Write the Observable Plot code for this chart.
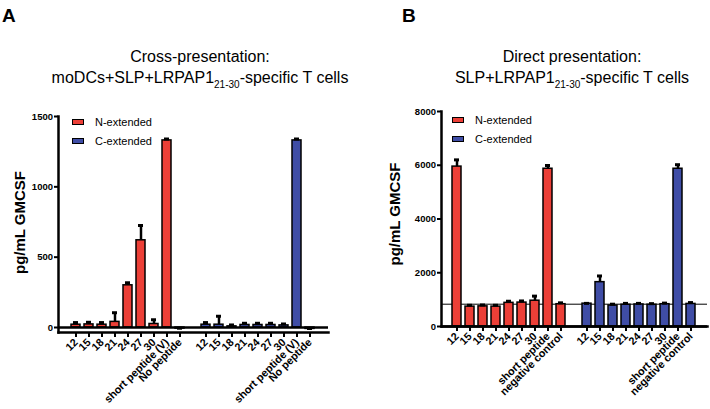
<!DOCTYPE html>
<html><head><meta charset="utf-8">
<script src="https://cdn.jsdelivr.net/npm/d3@7"></script>
<script src="https://cdn.jsdelivr.net/npm/@observablehq/plot@0.6"></script>
<style>
body{margin:0;background:#fff;}
#root{position:relative;width:710px;height:409px;font-family:"Liberation Sans",Arial,sans-serif;color:#000;overflow:hidden;background:#fff;}
.letter{position:absolute;top:6px;font-size:19px;font-weight:bold;line-height:19px;}
.title{position:absolute;top:46px;width:400px;font-size:16px;line-height:21px;text-align:center;white-space:nowrap;}
.title .sub{font-size:10px;position:relative;top:5px;}
.leg{position:absolute;font-size:11px;line-height:12px;display:flex;align-items:center;white-space:nowrap;}
.sw{width:10px;height:4px;border:1.5px solid #000;margin-right:11px;}
.plot{position:absolute;top:100px;}
</style></head>
<body>
<div id="root">
  <div class="letter" style="left:2px">A</div>
  <div class="letter" style="left:402px">B</div>
  <div class="title" style="left:0px">Cross-presentation:<br>moDCs+SLP+LRPAP1<span class="sub">21-30</span>-specific T cells</div>
  <div class="title" style="left:372px">Direct presentation:<br>SLP+LRPAP1<span class="sub">21-30</span>-specific T cells</div>
  <div id="plotA" class="plot" style="left:0px"></div>
  <div id="plotB" class="plot" style="left:370px"></div>
  <div id="legA"></div>
  <div id="legB"></div>
</div>
<script>
// ---- data ----
const seriesNames = ["N-extended", "C-extended"];
const seriesColors = ["#EC3F37", "#3F4DA6"];

// Panel A: cross-presentation
const categoriesA = ["12", "15", "18", "21", "24", "27", "30", "short peptide (V)", "No peptide"];
const nExtA    = [20, 22, 20, 40, 300, 620, 25, 1330, -8];
const nExtErrA = [15, 15, 15, 65, 18, 105, 30, 10, 3];
const cExtA    = [20, 20, 8, 18, 18, 18, 15, 1330, -10];
const cExtErrA = [15, 60, 10, 12, 12, 12, 10, 10, 3];
const yTicksA  = [0, 500, 1000, 1500];

// Panel B: direct presentation
const categoriesB = ["12", "15", "18", "21", "24", "27", "30", "short peptide", "negative control"];
const nExtB    = [5950, 740, 750, 740, 880, 890, 960, 5870, 830];
const nExtErrB = [250, 50, 50, 50, 60, 60, 170, 120, 50];
const cExtB    = [850, 1650, 780, 810, 820, 810, 830, 5870, 840];
const cExtErrB = [10, 230, 50, 50, 40, 40, 40, 150, 50];
const yTicksB  = [0, 2000, 4000, 6000, 8000];
const refLineB = [830];

const yLabel = "pg/mL GMCSF";

function buildRows(categories, n, nErr, c, cErr) {
  const rows = [];
  categories.forEach((cat, i) => rows.push({key: "N:" + cat, label: cat, group: seriesNames[0], value: n[i], err: nErr[i]}));
  categories.forEach((cat, i) => rows.push({key: "C:" + cat, label: cat, group: seriesNames[1], value: c[i], err: cErr[i]}));
  return rows;
}

function makePanel(cfg) {
  const rows = buildRows(cfg.categories, cfg.n, cfg.nErr, cfg.c, cfg.cErr);
  const nKeys = rows.filter(d => d.group === seriesNames[0]).map(d => d.key);
  const cKeys = rows.filter(d => d.group === seriesNames[1]).map(d => d.key);
  const domain = [...nKeys, "gap", ...cKeys];
  const labelOf = new Map(rows.map(d => [d.key, d.label]));
  return Plot.plot({
    width: cfg.width, height: 309,
    marginTop: cfg.marginTop, marginBottom: cfg.marginBottom,
    marginLeft: cfg.marginLeft, marginRight: cfg.marginRight,
    style: {fontFamily: '"Liberation Sans", Arial, sans-serif', color: "#000", background: "transparent", overflow: "visible"},
    x: {domain, padding: 0.3, axis: null},
    y: {domain: cfg.yDomain, insetBottom: cfg.insetBottom, axis: null},
    color: {domain: seriesNames, range: seriesColors},
    marks: [
      Plot.ruleY(cfg.refLine || [], {strokeWidth: 1}),
      Plot.barY(rows, {x: "key", y: "value", fill: "group", stroke: "#000", strokeWidth: 1.5}),
      Plot.ruleX(rows, {x: "key", y1: "value", y2: d => d.value + d.err, strokeWidth: 2.5}),
      Plot.tickY(rows, {x: "key", y: d => d.value + d.err, strokeWidth: 3, insetLeft: 2, insetRight: 2}),
      Plot.ruleY([0], {strokeWidth: 2.5}),
      Plot.frame({anchor: "left", strokeWidth: 2.5}),
      Plot.frame({anchor: "bottom", strokeWidth: 2.5}),
      Plot.axisY({ticks: cfg.yTicks, tickFormat: d => String(d), tickSize: 4, tickPadding: 1.5, strokeWidth: 2, fontWeight: "bold", fontSize: 9.5, label: null}),
      Plot.axisX({ticks: [...nKeys, ...cKeys], tickFormat: k => labelOf.get(k), tickRotate: -45, tickSize: 5, tickPadding: 3, strokeWidth: 2, fontWeight: "bold", fontSize: 10.8, label: null}),
      Plot.text([yLabel], {frameAnchor: "left", textAnchor: "middle", rotate: -90, dx: cfg.labelDx, dy: cfg.labelDy, fontSize: 15, fontWeight: "bold"})
    ]
  });
}

document.getElementById("plotA").appendChild(makePanel({
  categories: categoriesA, n: nExtA, nErr: nExtErrA, c: cExtA, cErr: cExtErrA,
  yDomain: [0, 1500], yTicks: yTicksA, insetBottom: 5,
  width: 370, marginTop: 16, marginBottom: 77, marginLeft: 58, marginRight: 42, labelDx: -38, labelDy: -2
}));
document.getElementById("plotB").appendChild(makePanel({
  categories: categoriesB, n: nExtB, nErr: nExtErrB, c: cExtB, cErr: cExtErrB,
  yDomain: [0, 8000], yTicks: yTicksB, insetBottom: 0, refLine: refLineB,
  width: 340, marginTop: 11, marginBottom: 83, marginLeft: 71, marginRight: 3, labelDx: -46, labelDy: -5
}));

function legend(id, left, top) {
  const el = document.getElementById(id);
  seriesNames.forEach((name, i) => {
    const row = document.createElement("div");
    row.className = "leg";
    row.style.left = left + "px";
    row.style.top = (top + i * 19) + "px";
    row.innerHTML = `<div class="sw" style="background:${seriesColors[i]}"></div><span>${name}</span>`;
    el.appendChild(row);
  });
}
legend("legA", 72, 116);
legend("legB", 452, 114);
</script>
</body></html>
